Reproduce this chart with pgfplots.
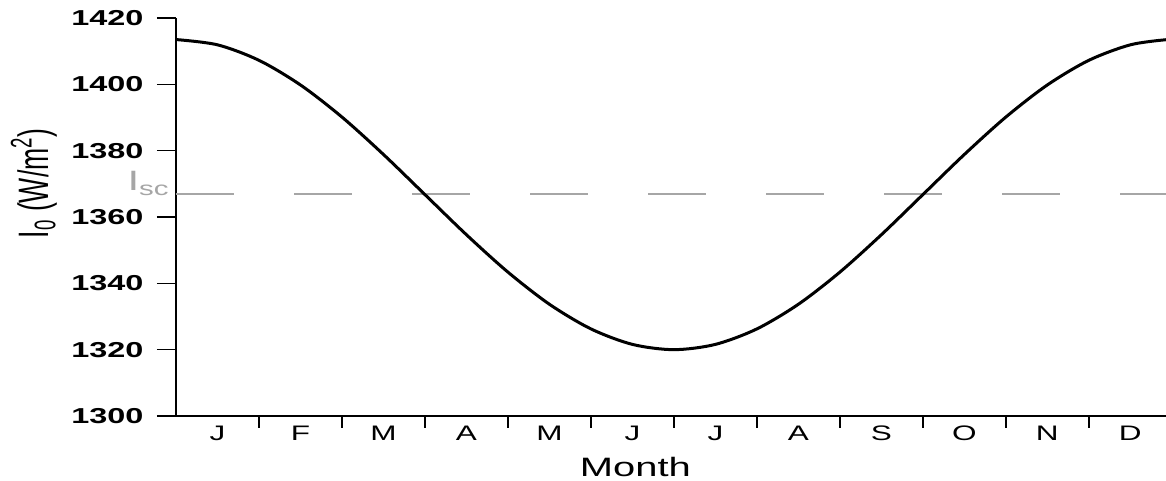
\documentclass[border=0pt]{standalone}
\usepackage{fontspec}
\setmainfont{Liberation Sans}[FakeStretch=1.5]
\newfontfamily\plainsans{Liberation Sans}
\usepackage{pgfplots}
\pgfplotsset{compat=1.18}
\begin{document}
\begin{tikzpicture}
\begin{axis}[
  scale only axis,
  width=495pt, height=199pt,
  xmin=0, xmax=11.93,
  ymin=1300, ymax=1420,
  axis x line=bottom, axis y line=left,
  axis line style={-, line width=1pt},
  tick align=outside,
  xtick={0.5,1.5,...,11.5},
  xticklabels={J,F,M,A,M,J,J,A,S,O,N,D},
  minor xtick={1,2,...,11},
  xtick style={/pgfplots/major tick length=0pt, /pgfplots/minor tick length=6pt, line width=0.8pt, black},
  ytick={1300,1320,...,1420},
  ytick style={/pgfplots/major tick length=9.5pt, line width=0.8pt, black},
  /pgf/number format/assume math mode=true,
  /pgf/number format/1000 sep={},
  yticklabel style={font=\fontsize{10.8}{12}\selectfont\bfseries, xshift=-8.5pt},
  xticklabel style={font=\fontsize{10.5}{12}\selectfont, yshift=3pt},
  xlabel={Month},
  xlabel style={font=\fontsize{13.3}{15}\selectfont, at={(axis description cs:0.464,0)}, anchor=north, yshift=-17pt},
  ylabel={\scalebox{1}[1.6]{\plainsans\fontsize{13.3}{15}\selectfont I\textsubscript{0} (W/m\textsuperscript{2})}},
  ylabel style={at={(axis description cs:-0.1434,0.585)}, anchor=center},
  clip=false,
]
\addplot[gray!70, line width=0.8pt, dash pattern=on 29pt off 30pt, forget plot] coordinates {(0,1367) (11.93,1367)};
\addplot[black, line width=1.5pt, smooth] coordinates {
(0,1413.50) (0.5,1411.91) (1,1407.24) (1.5,1399.81) (2,1390.13) (2.5,1378.85)
(3,1366.75) (3.5,1354.65) (4,1343.38) (4.5,1333.69) (5,1326.26) (5.5,1321.59)
(6,1320.00) (6.5,1321.59) (7,1326.26) (7.5,1333.69) (8,1343.38) (8.5,1354.65)
(9,1366.75) (9.5,1378.85) (10,1390.13) (10.5,1399.81) (11,1407.24) (11.5,1411.91)
(11.93,1413.45)};
\node[anchor=base east, text=gray!70, font=\fontsize{14}{16}\selectfont, inner sep=0pt, xshift=-3pt, yshift=1.5pt] at (axis cs:0,1367) {I\textsubscript{sc}};
\coordinate (O) at (rel axis cs:0,0);
\coordinate (TR) at (rel axis cs:1,1);
\end{axis}
\pgfresetboundingbox
\path[use as bounding box] ([xshift=-88pt,yshift=-32.5pt]O) rectangle ([yshift=9pt]TR);
\end{tikzpicture}
\end{document}
